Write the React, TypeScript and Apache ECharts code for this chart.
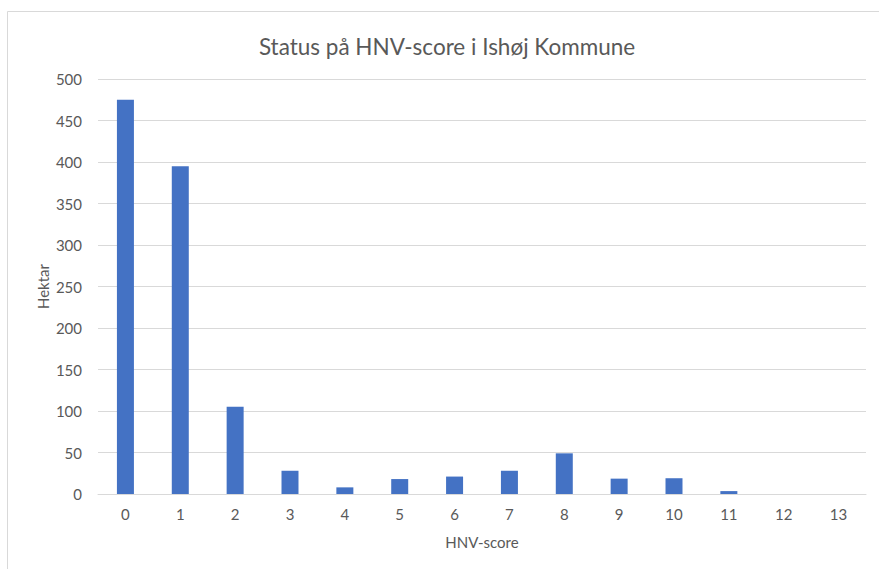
import React, { useEffect, useRef } from "react";
import * as echarts from "echarts";

const categories = ["0", "1", "2", "3", "4", "5", "6", "7", "8", "9", "10", "11", "12", "13"];
const hektar = [475, 395, 105, 28, 8, 18, 21, 28, 49, 18.5, 19, 3.5, 0, 0];
const titleText = "Status på HNV-score i Ishøj Kommune";
const xName = "HNV-score";
const yName = "Hektar";

const FONT = "Lato, 'Open Sans', sans-serif";
const GREY = "#595959";

export default function App() {
  const ref = useRef<HTMLDivElement>(null);
  useEffect(() => {
    if (!ref.current) return;
    const chart = echarts.init(ref.current, null, { renderer: "svg" });
    chart.setOption({
      animation: false,
      backgroundColor: "#ffffff",
      graphic: [
        {
          type: "rect",
          shape: { x: 7.5, y: 11.5, width: 900, height: 600 },
          style: { fill: "none", stroke: "#d9d9d9", lineWidth: 1 },
          silent: true,
        },
      ],
      title: {
        text: titleText,
        left: 442,
        top: 30,
        textAlign: "center",
        textStyle: { fontFamily: FONT, fontSize: 22.5, fontWeight: "normal", color: GREY },
      },
      grid: { left: 98, right: 13, top: 79, bottom: 75 },
      xAxis: {
        type: "category",
        data: categories,
        name: xName,
        nameLocation: "middle",
        nameGap: 40,
        nameTextStyle: { fontFamily: FONT, fontSize: 15, color: GREY },
        axisLine: { lineStyle: { color: "#d9d9d9", width: 1 } },
        axisTick: { show: false },
        axisLabel: { fontFamily: FONT, fontSize: 15, color: GREY, margin: 12 },
      },
      yAxis: {
        type: "value",
        min: 0,
        max: 500,
        interval: 50,
        name: yName,
        nameLocation: "middle",
        nameGap: 48,
        nameMoveOverlap: false,
        nameTextStyle: { fontFamily: FONT, fontSize: 15, color: GREY },
        axisLine: { show: false },
        axisTick: { show: false },
        axisLabel: { fontFamily: FONT, fontSize: 15, color: GREY, margin: 16 },
        splitLine: { lineStyle: { color: "#d9d9d9", width: 1 } },
      },
      series: [
        {
          type: "bar",
          data: hektar,
          barWidth: 17,
          itemStyle: { color: "#4472C4" },
        },
      ],
    });
    return () => chart.dispose();
  }, []);
  return (
    <div
      ref={ref}
      style={{ position: "fixed", left: 0, top: 0, width: 879, height: 569 }}
    />
  );
}
